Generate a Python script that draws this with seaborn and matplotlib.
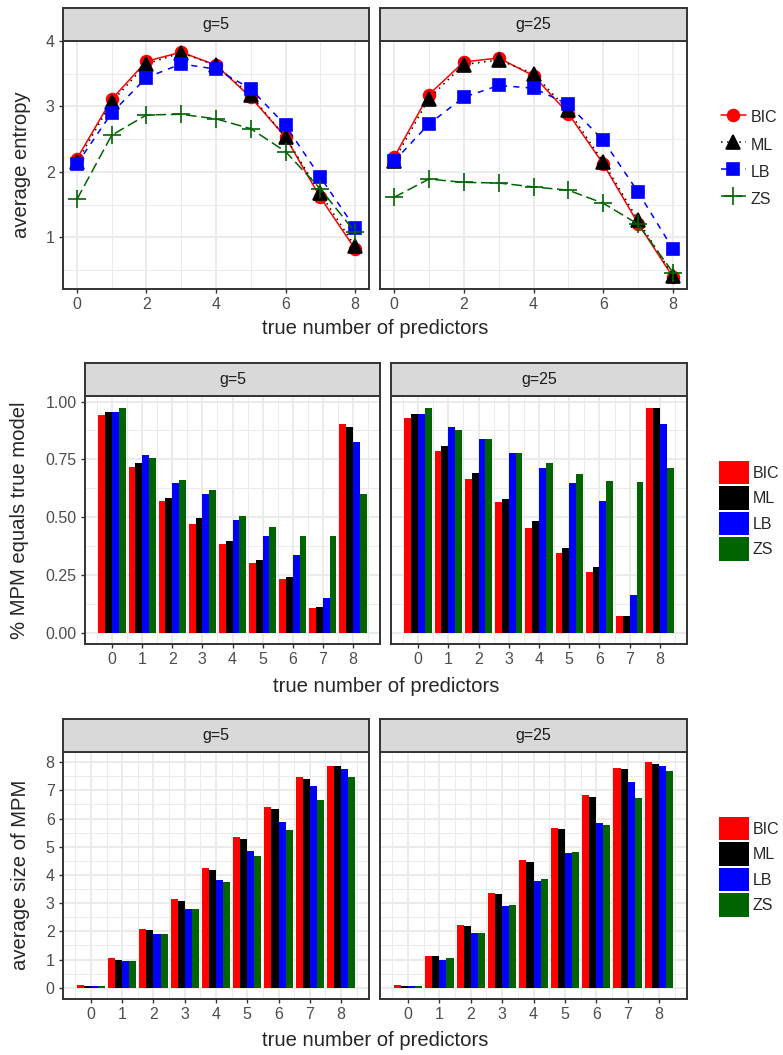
import pandas as pd
import seaborn as sns
import matplotlib
matplotlib.use('Agg')
import matplotlib.pyplot as plt
from matplotlib.lines import Line2D
from matplotlib.patches import Patch

sns.set_theme(style='white')
plt.rcParams['font.family'] = ['Liberation Sans', 'DejaVu Sans']

k = list(range(9))
methods = ['BIC', 'ML', 'LB', 'ZS']
facets = ['g=5', 'g=25']
palette = {'BIC': '#FF0000', 'ML': '#000000', 'LB': '#0000FF', 'ZS': '#006400'}

# average entropy
ent5_bic = [2.20, 3.11, 3.69, 3.83, 3.63, 3.14, 2.53, 1.61, 0.82]
ent5_ml = [2.15, 3.07, 3.65, 3.82, 3.63, 3.17, 2.53, 1.67, 0.86]
ent5_lb = [2.12, 2.90, 3.44, 3.65, 3.57, 3.27, 2.71, 1.92, 1.14]
ent5_zs = [1.58, 2.56, 2.87, 2.88, 2.81, 2.66, 2.31, 1.74, 1.08]
ent25_bic = [2.22, 3.18, 3.68, 3.74, 3.47, 2.89, 2.12, 1.21, 0.39]
ent25_ml = [2.17, 3.12, 3.64, 3.71, 3.50, 2.94, 2.15, 1.26, 0.41]
ent25_lb = [2.16, 2.73, 3.14, 3.32, 3.28, 3.03, 2.48, 1.69, 0.82]
ent25_zs = [1.61, 1.89, 1.84, 1.83, 1.77, 1.72, 1.52, 1.20, 0.46]

# share of MPM equal to the true model
mpm5_bic = [0.940, 0.715, 0.568, 0.469, 0.383, 0.301, 0.232, 0.106, 0.905]
mpm5_ml = [0.953, 0.732, 0.581, 0.495, 0.396, 0.314, 0.240, 0.111, 0.892]
mpm5_lb = [0.953, 0.767, 0.646, 0.599, 0.486, 0.417, 0.335, 0.150, 0.823]
mpm5_zs = [0.970, 0.754, 0.659, 0.616, 0.504, 0.456, 0.417, 0.417, 0.599]
mpm25_bic = [0.927, 0.784, 0.663, 0.564, 0.452, 0.344, 0.262, 0.072, 0.974]
mpm25_ml = [0.948, 0.806, 0.689, 0.577, 0.482, 0.365, 0.283, 0.072, 0.974]
mpm25_lb = [0.948, 0.888, 0.836, 0.776, 0.711, 0.646, 0.568, 0.163, 0.901]
mpm25_zs = [0.970, 0.879, 0.836, 0.776, 0.732, 0.685, 0.655, 0.650, 0.711]

# average size of MPM
size5_bic = [0.08, 1.07, 2.09, 3.15, 4.25, 5.34, 6.40, 7.46, 7.85]
size5_ml = [0.05, 1.00, 2.06, 3.08, 4.18, 5.27, 6.33, 7.42, 7.85]
size5_lb = [0.05, 0.96, 1.92, 2.80, 3.82, 4.85, 5.87, 7.14, 7.74]
size5_zs = [0.05, 0.96, 1.92, 2.80, 3.75, 4.67, 5.59, 6.65, 7.46]
size25_bic = [0.08, 1.14, 2.24, 3.36, 4.53, 5.66, 6.82, 7.78, 7.99]
size25_ml = [0.05, 1.11, 2.20, 3.33, 4.46, 5.62, 6.75, 7.74, 7.95]
size25_lb = [0.05, 1.00, 1.95, 2.91, 3.79, 4.78, 5.84, 7.28, 7.85]
size25_zs = [0.05, 1.04, 1.95, 2.94, 3.86, 4.81, 5.76, 6.72, 7.67]


def long_frame(series):
    rows = []
    for g, per_method in series.items():
        for m, vals in zip(methods, per_method):
            for x, v in zip(k, vals):
                rows.append({'g': g, 'method': m, 'k': x, 'value': v})
    return pd.DataFrame(rows)


ent_df = long_frame({'g=5': [ent5_bic, ent5_ml, ent5_lb, ent5_zs],
                     'g=25': [ent25_bic, ent25_ml, ent25_lb, ent25_zs]})
mpm_df = long_frame({'g=5': [mpm5_bic, mpm5_ml, mpm5_lb, mpm5_zs],
                     'g=25': [mpm25_bic, mpm25_ml, mpm25_lb, mpm25_zs]})
size_df = long_frame({'g=5': [size5_bic, size5_ml, size5_lb, size5_zs],
                      'g=25': [size25_bic, size25_ml, size25_lb, size25_zs]})

W, H = 783, 1055
fig = plt.figure(figsize=(W / 100, H / 100), dpi=100)
EDGE = '#333333'
GRID = '#EBEBEB'
TICK = 11.5
TITLE = 14.6


def box(l, t, r, b):
    return [l / W, 1 - b / H, (r - l) / W, (b - t) / H]


def make_panel(l, t, r, b, label):
    ax = fig.add_axes(box(l, t, r, b))
    st = fig.add_axes(box(l, t - 33, r, t))
    st.set_facecolor('#D9D9D9')
    st.set_xticks([])
    st.set_yticks([])
    for s in st.spines.values():
        s.set_color(EDGE)
        s.set_linewidth(1.4)
    st.text(0.5, 0.5, label, ha='center', va='center', fontsize=TICK,
            color='#1A1A1A', transform=st.transAxes)
    ax.set_facecolor('white')
    for s in ax.spines.values():
        s.set_color(EDGE)
        s.set_linewidth(1.4)
    ax.set_axisbelow(True)
    return ax


def finish(ax, xmaj, xmin, ymaj, ymin, ylabels, show_y):
    ax.set_xticks(xmaj)
    ax.set_xticks(xmin, minor=True)
    ax.set_yticks(ymaj)
    ax.set_yticks(ymin, minor=True)
    ax.set_xticklabels([str(v) for v in xmaj])
    ax.set_yticklabels(ylabels if show_y else [])
    ax.tick_params(which='major', length=3, width=1, color=EDGE,
                   labelsize=TICK, labelcolor='#4D4D4D', pad=3,
                   left=show_y, bottom=True)
    ax.tick_params(which='minor', length=0)
    ax.grid(which='major', color=GRID, lw=1.4)
    ax.grid(which='minor', color=GRID, lw=0.7)
    ax.set_xlabel('')
    ax.set_ylabel('')


# ---- row 1: average entropy (lines)
line_style = {'BIC': ('o', '-', 8.5), 'ML': ('^', (0, (1, 3)), 10.5),
              'LB': ('s', (0, (4, 4)), 9), 'ZS': ('+', (0, (7, 3)), 13.5)}
row1 = [(63, 41, 369, 289), (380, 41, 687, 289)]
for i, (g, pos) in enumerate(zip(facets, row1)):
    ax = make_panel(*pos, g)
    sub = ent_df[ent_df.g == g]
    for m in methods:
        mk, ls, ms = line_style[m]
        sns.lineplot(data=sub[sub.method == m], x='k', y='value', ax=ax,
                     color=palette[m], marker=mk, linestyle=ls, markersize=ms,
                     markeredgecolor=palette[m], markeredgewidth=1.2,
                     linewidth=1.1, errorbar=None)
    ax.set_xlim(-0.4, 8.4)
    ax.set_ylim(0.21, 4.0)
    finish(ax, [0, 2, 4, 6, 8], [1, 3, 5, 7], [1, 2, 3, 4],
           [0.5, 1.5, 2.5, 3.5], ['1', '2', '3', '4'], i == 0)

fig.text(22 / W, 1 - 165 / H, 'average entropy', rotation=90,
         ha='center', va='center', fontsize=TITLE)
fig.text(375 / W, 1 - 329 / H, 'true number of predictors',
         ha='center', va='center', fontsize=TITLE)

line_handles = [Line2D([], [], color=palette[m], marker=line_style[m][0],
                       linestyle=line_style[m][1], markersize=line_style[m][2],
                       markeredgecolor=palette[m], markeredgewidth=1.2,
                       linewidth=1.1) for m in methods]
fig.legend(handles=line_handles, labels=methods, loc='upper left',
           bbox_to_anchor=(721 / W, 1 - 107 / H), frameon=False,
           fontsize=TICK, handlelength=1.56, handleheight=1.6,
           labelspacing=0.42, handletextpad=0.3, borderpad=0,
           borderaxespad=0, numpoints=1)

# ---- rows 2 and 3: bars
bar_x_minor = [v + 0.5 for v in range(-1, 9)]


def bar_row(df, rows, ylim, ymaj, ymin, ylabels):
    for i, (g, pos) in enumerate(zip(facets, rows)):
        ax = make_panel(*pos, g)
        sns.barplot(data=df[df.g == g], x='k', y='value', hue='method',
                    hue_order=methods, palette=palette, native_scale=True,
                    width=0.9, saturation=1, errorbar=None, linewidth=0,
                    legend=False, ax=ax)
        ax.set_xlim(-0.895, 8.895)
        ax.set_ylim(*ylim)
        finish(ax, k, bar_x_minor, ymaj, ymin, ylabels, i == 0)


bar_row(mpm_df, [(85, 396, 380, 644), (391, 396, 687, 644)],
        (-0.049, 1.024), [0, 0.25, 0.5, 0.75, 1.0],
        [0.125, 0.375, 0.625, 0.875],
        ['0.00', '0.25', '0.50', '0.75', '1.00'])
fig.text(20 / W, 1 - 520 / H, '% MPM equals true model', rotation=90,
         ha='center', va='center', fontsize=TITLE)
fig.text(386 / W, 1 - 686 / H, 'true number of predictors',
         ha='center', va='center', fontsize=TITLE)

bar_row(size_df, [(63, 752, 369, 999), (380, 752, 687, 999)],
        (-0.4, 8.36), list(range(9)), [v + 0.5 for v in range(8)],
        [str(v) for v in range(9)])
fig.text(21 / W, 1 - 875 / H, 'average size of MPM', rotation=90,
         ha='center', va='center', fontsize=TITLE)
fig.text(375 / W, 1 - 1040 / H, 'true number of predictors',
         ha='center', va='center', fontsize=TITLE)

bar_handles = [Patch(facecolor=palette[m], edgecolor='none') for m in methods]
for top in (461, 817):
    fig.legend(handles=bar_handles, labels=methods, loc='upper left',
               bbox_to_anchor=(719 / W, 1 - top / H), frameon=False,
               fontsize=TICK, handlelength=1.875, handleheight=1.875,
               labelspacing=0.125, handletextpad=0.25, borderpad=0,
               borderaxespad=0)

fig.savefig('out.png', dpi=100)
